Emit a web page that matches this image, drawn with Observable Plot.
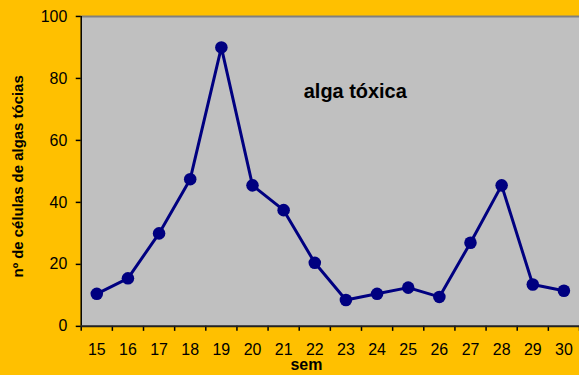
<!DOCTYPE html>
<html>
<head>
<meta charset="utf-8">
<script src="https://cdn.jsdelivr.net/npm/d3@7"></script>
<script src="https://cdn.jsdelivr.net/npm/@observablehq/plot@0.6"></script>
<style>
  html, body { margin: 0; padding: 0; background: #FFC000; overflow: hidden; }
  #chart svg { display: block; }
</style>
</head>
<body>
<div id="chart"></div>
<script>
const weeks = [15, 16, 17, 18, 19, 20, 21, 22, 23, 24, 25, 26, 27, 28, 29, 30];
const cells = [10.5, 15.5, 30, 47.5, 90, 45.5, 37.5, 20.5, 8.5, 10.5, 12.5, 9.5, 27, 45.5, 13.5, 11.5];
const yTicks = [0, 20, 40, 60, 80, 100];
const yLabel = "nº de células de algas tócias";
const xLabel = "sem";
const note = "alga tóxica";

const data = weeks.map((w, i) => ({week: w, value: cells[i]}));
const bounds = weeks.map(w => w - 0.5).concat([weeks[weeks.length - 1] + 0.5]);

const chart = Plot.plot({
  width: 581,
  height: 375,
  marginLeft: 81,
  marginRight: 0,
  marginTop: 16,
  marginBottom: 48,
  style: {background: "#FFC000", fontFamily: "'Liberation Sans', Arial, sans-serif", color: "#000"},
  x: {type: "linear", domain: [bounds[0], bounds[bounds.length - 1]]},
  y: {domain: [0, 100]},
  marks: [
    Plot.frame({fill: "#C0C0C0", stroke: null}),
    Plot.ruleY([100], {stroke: "#808080", strokeWidth: 2}),
    Plot.axisY(yTicks, {tickSize: 5, tickPadding: 9, fontSize: 16, stroke: "#000", strokeWidth: 1.5, label: null}),
    Plot.axisX(bounds, {tickSize: 5, tickFormat: () => "", stroke: "#000", strokeWidth: 1.5, label: null}),
    Plot.axisX(weeks, {tickSize: 0, tickPadding: 17, fontSize: 16, label: null}),
    Plot.ruleX([bounds[0]], {stroke: "#000", strokeWidth: 1.5}),
    Plot.ruleY([0], {stroke: "#222", strokeWidth: 2}),
    Plot.line(data, {x: "week", y: "value", stroke: "#000080", strokeWidth: 3}),
    Plot.dot(data, {x: "week", y: "value", fill: "#000080", r: 6.3}),
    Plot.text([note], {frameAnchor: "top", dx: 25, dy: 68, fontSize: 20, fontWeight: "bold", letterSpacing: 2.2, fill: "#000"}),
    Plot.text([yLabel], {frameAnchor: "left", dx: -63, dy: 5, rotate: -90, textAnchor: "middle", fontSize: 15, fontWeight: "bold", letterSpacing: 0.8, fill: "#000"}),
    Plot.text([xLabel], {frameAnchor: "bottom", dx: -40, dy: 44, textAnchor: "start", lineAnchor: "bottom", fontSize: 16, fontWeight: "bold", letterSpacing: 1.2, fill: "#000"})
  ]
});
document.getElementById("chart").appendChild(chart);
</script>
</body>
</html>
